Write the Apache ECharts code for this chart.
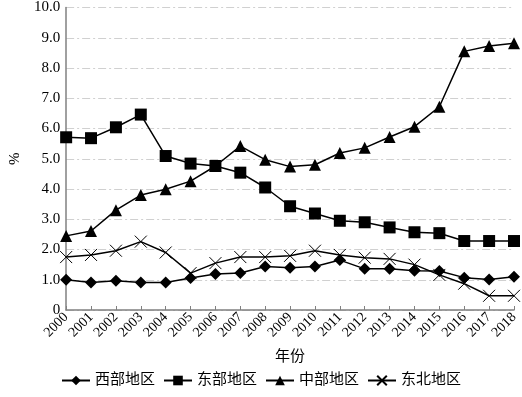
<!DOCTYPE html>
<html><head><meta charset="utf-8">
<script src="https://cdn.jsdelivr.net/npm/echarts@6/dist/echarts.min.js"></script>
<style>html,body{margin:0;padding:0;background:#fff}#c{width:522px;height:397px}</style>
</head><body><div id="c"></div>
<script>
const years = ['2000','2001','2002','2003','2004','2005','2006','2007','2008','2009','2010','2011','2012','2013','2014','2015','2016','2017','2018'];
const west = [1.00,0.91,0.97,0.91,0.91,1.06,1.19,1.22,1.44,1.40,1.44,1.65,1.36,1.36,1.30,1.29,1.07,1.01,1.10];
const east = [5.71,5.68,6.04,6.46,5.09,4.84,4.76,4.54,4.05,3.43,3.19,2.95,2.90,2.73,2.57,2.54,2.28,2.28,2.28];
const central = [2.45,2.61,3.30,3.80,3.99,4.26,4.76,5.42,4.97,4.74,4.80,5.19,5.36,5.72,6.06,6.72,8.55,8.73,8.82];
const northeast = [1.75,1.82,1.96,2.26,1.90,1.22,1.55,1.75,1.75,1.79,1.96,1.82,1.73,1.69,1.50,1.16,0.87,0.47,0.47];
const names = ['西部地区','东部地区','中部地区','东北地区'];

const serif = '"Times New Roman", "Liberation Serif", "DejaVu Serif", serif';
const cjk = '"Times New Roman", "Liberation Serif", "Noto Sans CJK SC", serif';
const chart = echarts.init(document.getElementById('c'));
function mk(name, data, symbol, size, extra) {
  return Object.assign({
    name, type: 'line', data, symbol, symbolSize: size,
    showAllSymbol: true,
    lineStyle: { color: '#000', width: 1.5 },
    itemStyle: { color: '#000' },
    emphasis: { disabled: true }
  }, extra || {});
}
chart.setOption({
  animation: false,
  textStyle: { fontFamily: serif },
  grid: { left: 50, right: 8, top: 6, bottom: 87, containLabel: false },
  legend: {
    bottom: 4, left: 'center', itemWidth: 28, itemHeight: 12, itemGap: 8,
    textStyle: { fontSize: 15, color: '#000', fontFamily: cjk },
    data: names
  },
  xAxis: {
    type: 'category', data: years, boundaryGap: false,
    name: '年份', nameLocation: 'middle', nameGap: 47, nameMoveOverlap: false,
    nameTextStyle: { fontSize: 15, color: '#000', fontFamily: cjk, verticalAlign: 'middle' },
    axisLine: { lineStyle: { color: '#808080', width: 1.5 } },
    axisTick: { inside: true, length: 4, interval: 0, lineStyle: { color: '#808080' } },
    axisLabel: { rotate: 45, fontSize: 14, color: '#000', margin: 5, interval: 0, hideOverlap: false, fontFamily: serif },
    splitLine: { show: false }
  },
  yAxis: {
    type: 'value', min: 0, max: 10, interval: 1,
    name: '%', nameLocation: 'middle', nameGap: 42, nameRotate: 90,
    nameTextStyle: { fontSize: 15, color: '#000', fontFamily: serif },
    axisLine: { show: true, lineStyle: { color: '#808080', width: 1.5 } },
    axisTick: { show: false },
    axisLabel: { fontSize: 15, color: '#000', margin: 6, fontFamily: serif,
      formatter: v => v === 0 ? '0' : v.toFixed(1) },
    splitLine: { show: true, lineStyle: { color: '#d0d0d0', width: 1, type: [8, 3, 2, 3] } }
  },
  series: [
    mk(names[0], west, 'diamond', 12),
    mk(names[1], east, 'rect', 12),
    mk(names[2], central, 'triangle', 12),
    mk(names[3], northeast, 'path://M0 0L10 10M10 0L0 10', 12, {
      itemStyle: { color: 'rgba(0,0,0,0)', borderColor: '#000', borderWidth: 1 }
    })
  ]
});
</script></body></html>
